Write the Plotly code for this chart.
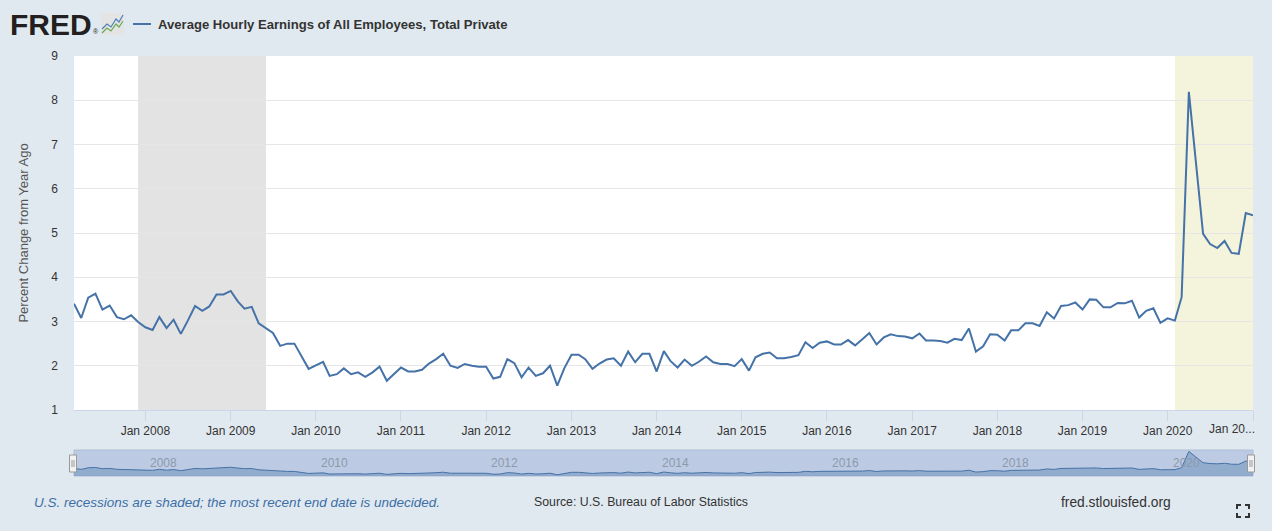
import plotly.graph_objects as go
import pandas as pd

# ---------------- data ----------------
START_MONTH = "2007-03-01"
pct_change = [
    # 2007 Mar-Dec
    3.40, 3.08, 3.54, 3.63, 3.27, 3.36, 3.10, 3.05, 3.14, 2.99,
    # 2008
    2.87, 2.81, 3.10, 2.85, 3.04, 2.72, 3.02, 3.35, 3.24, 3.34, 3.61, 3.61,
    # 2009
    3.69, 3.45, 3.29, 3.33, 2.96, 2.85, 2.74, 2.45, 2.50, 2.50, 2.21, 1.93,
    # 2010
    2.01, 2.09, 1.77, 1.81, 1.94, 1.81, 1.85, 1.75, 1.85, 1.98, 1.66, 1.81,
    # 2011
    1.96, 1.87, 1.87, 1.91, 2.05, 2.15, 2.27, 2.00, 1.95, 2.04, 2.00, 1.98,
    # 2012
    1.98, 1.71, 1.75, 2.15, 2.06, 1.74, 1.96, 1.77, 1.83, 2.00, 1.55, 1.94,
    # 2013
    2.25, 2.25, 2.15, 1.93, 2.05, 2.14, 2.17, 2.00, 2.32, 2.08, 2.27, 2.27,
    # 2014
    1.87, 2.33, 2.11, 1.96, 2.14, 2.00, 2.09, 2.21, 2.08, 2.04, 2.04, 1.99,
    # 2015
    2.15, 1.89, 2.19, 2.27, 2.30, 2.17, 2.17, 2.20, 2.24, 2.53, 2.40, 2.52,
    # 2016
    2.55, 2.48, 2.48, 2.58, 2.46, 2.60, 2.74, 2.48, 2.64, 2.71, 2.67, 2.66,
    # 2017
    2.62, 2.73, 2.57, 2.57, 2.56, 2.52, 2.61, 2.58, 2.84, 2.32, 2.44, 2.71,
    # 2018
    2.70, 2.57, 2.80, 2.80, 2.96, 2.96, 2.90, 3.21, 3.07, 3.35, 3.37, 3.43,
    # 2019
    3.27, 3.50, 3.49, 3.32, 3.32, 3.42, 3.41, 3.47, 3.09, 3.24, 3.30, 2.97,
    # 2020
    3.07, 3.02, 3.55, 8.19, 6.60, 4.98, 4.75, 4.66, 4.82, 4.55, 4.53, 5.45,
    # 2021
    5.40,
]
dates = pd.date_range(START_MONTH, periods=len(pct_change), freq="MS")

recession_starts = ["2007-12-01", "2020-02-01"]
recession_ends = ["2009-06-01", "2021-01-01"]
recession_colors = ["#e3e3e3", "#f4f4dc"]

tick_years = list(range(2008, 2022))
tick_labels = [f"Jan {y}" for y in tick_years[:-1]] + [""]
last_tick_label = "Jan 20..."
nav_years = list(range(2008, 2021, 2))

series_name = "Average Hourly Earnings of All Employees, Total Private"
y_title = "Percent Change from Year Ago"

# ---------------- geometry helpers ----------------
W, H = 1272, 531
L, R, T, B = 74, 19, 56, 55
PW, PH = W - L - R, H - T - B


def px(x):
    return (x - L) / PW


def py(y):
    return (H - B - y) / PH


main_dom = [py(410), 1.0]
nav_dom = [py(476), py(450)]

fig = go.Figure()
fig.add_trace(go.Scatter(
    x=dates, y=pct_change, mode="lines", name=series_name,
    line=dict(color="#4572a7", width=2), xaxis="x", yaxis="y",
))
fig.add_trace(go.Scatter(
    x=dates, y=pct_change, mode="lines", name="navigator",
    line=dict(color="#4572a7", width=1), fill="tozeroy",
    fillcolor="rgba(69,114,167,0.35)", xaxis="x2", yaxis="y2",
))

shapes = []
for s, e, c in zip(recession_starts, recession_ends, recession_colors):
    shapes.append(dict(type="rect", xref="x", yref="y domain", x0=s, x1=e,
                       y0=0, y1=1, fillcolor=c, line_width=0, layer="below"))

# navigator band
shapes.append(dict(type="rect", xref="x2 domain", yref="y2 domain", x0=0, x1=1,
                   y0=0, y1=1, fillcolor="#bccbe3", line=dict(color="#aebdd8", width=1),
                   layer="below"))
# navigator handles
for hx in (73, 1251):
    shapes.append(dict(type="rect", xref="paper", yref="paper",
                       x0=px(hx - 3.5), x1=px(hx + 3.5), y0=py(472), y1=py(455),
                       fillcolor="#f2f2f2", line=dict(color="#999999", width=1), layer="above"))
    for gx in (hx - 1, hx + 1):
        shapes.append(dict(type="line", xref="paper", yref="paper",
                           x0=px(gx), x1=px(gx), y0=py(467), y1=py(460),
                           line=dict(color="#999999", width=1), layer="above"))

# legend line in header
shapes.append(dict(type="line", xref="paper", yref="paper", x0=px(133), x1=px(151),
                   y0=py(24), y1=py(24), line=dict(color="#4572a7", width=2)))

# FRED icon
shapes.append(dict(type="rect", xref="paper", yref="paper", x0=px(101), x1=px(124),
                   y0=py(35), y1=py(13), fillcolor="#e4e4e4", line_width=0))
icon_blue = [(102, 29), (107, 24), (111, 27), (116, 19), (119, 22), (123, 15)]
icon_green = [(102, 33), (107, 28), (111, 31), (116, 24), (119, 27), (123, 21)]
for pts, col in ((icon_blue, "#4d7fb8"), (icon_green, "#6aa84f")):
    path = "M " + " L ".join(f"{px(a)},{py(b)}" for a, b in pts)
    shapes.append(dict(type="path", xref="paper", yref="paper", path=path,
                       line=dict(color=col, width=1.2)))

# fullscreen icon
for (x0, y0, dx, dy) in ((1237, 505, 1, 1), (1249, 505, -1, 1), (1237, 517, 1, -1), (1249, 517, -1, -1)):
    path = f"M {px(x0)},{py(y0 + 4 * dy)} L {px(x0)},{py(y0)} L {px(x0 + 4 * dx)},{py(y0)}"
    shapes.append(dict(type="path", xref="paper", yref="paper", path=path,
                       line=dict(color="#333333", width=2)))

annotations = [
    dict(text="<b>FRED</b>", x=px(8), y=py(24), xref="paper", yref="paper",
         xanchor="left", yanchor="middle", showarrow=False,
         font=dict(family="Liberation Sans, Arial", size=30, color="#231f20")),
    dict(text="®", x=px(91), y=py(32), xref="paper", yref="paper",
         xanchor="left", yanchor="middle", showarrow=False,
         font=dict(family="Liberation Sans, Arial", size=7, color="#231f20")),
    dict(text=f"<b>{series_name}</b>", x=px(156), y=py(24), xref="paper", yref="paper",
         xanchor="left", yanchor="middle", showarrow=False,
         font=dict(family="Liberation Sans, Arial", size=13.1, color="#333333")),
    dict(text="<i>U.S. recessions are shaded; the most recent end date is undecided.</i>",
         x=px(32), y=py(502), xref="paper", yref="paper", xanchor="left", yanchor="middle",
         showarrow=False, font=dict(family="Liberation Sans, Arial", size=13.5, color="#3d6fa6")),
    dict(text="Source: U.S. Bureau of Labor Statistics",
         x=px(532), y=py(502), xref="paper", yref="paper", xanchor="left", yanchor="middle",
         showarrow=False, font=dict(family="Liberation Sans, Arial", size=12.3, color="#333333")),
    dict(text="fred.stlouisfed.org",
         x=px(1059), y=py(502), xref="paper", yref="paper", xanchor="left", yanchor="middle",
         showarrow=False, font=dict(family="Liberation Sans, Arial", size=13.8, color="#333333")),
    dict(text=last_tick_label, x=pd.Timestamp(f"{tick_years[-1]}-01-01"), y=py(429),
         xref="x", yref="paper", xanchor="right", yanchor="middle", xshift=4,
         showarrow=False, font=dict(family="Liberation Sans, Arial", size=12, color="#333333")),
]
for yr in nav_years:
    annotations.append(dict(text=str(yr), x=pd.Timestamp(f"{yr}-01-01"), y=0.5,
                            xref="x2", yref="y2 domain", xanchor="left", yanchor="middle",
                            xshift=3, showarrow=False,
                            font=dict(family="Liberation Sans, Arial", size=12, color="#8e99ab")))

x_range = [dates[0], dates[-1]]
fig.update_layout(
    width=W, height=H,
    margin=dict(l=L, r=R, t=T, b=B, pad=0),
    paper_bgcolor="#e1e9f0", plot_bgcolor="#ffffff",
    showlegend=False,
    font=dict(family="Liberation Sans, Arial", size=12, color="#333333"),
    xaxis=dict(domain=[0, 1], anchor="y", type="date", range=x_range,
               tickvals=[pd.Timestamp(f"{y}-01-01") for y in tick_years],
               ticktext=tick_labels, ticks="outside", ticklen=10, tickcolor="#ccd6eb",
               showline=True, linecolor="#ccd6eb", linewidth=1, showgrid=False,
               zeroline=False, tickfont=dict(size=12, color="#333333")),
    yaxis=dict(domain=main_dom, anchor="x", range=[1, 9], dtick=1,
               gridcolor="#e6e6e6", zeroline=False, showline=False, ticks="",
               tickfont=dict(size=12, color="#333333"), ticklabelstandoff=15,
               title=dict(text=y_title, font=dict(size=13, color="#555555"), standoff=19)),
    xaxis2=dict(domain=[0, 1], anchor="y2", type="date", range=x_range,
                showticklabels=False, showgrid=False, zeroline=False, showline=False, ticks=""),
    yaxis2=dict(domain=nav_dom, anchor="x2", range=[1.2, 8.6], visible=False),
    shapes=shapes, annotations=annotations,
)

fig.write_html("out.html", config={"displayModeBar": False},
               post_script="document.body.style.margin='0';document.body.style.overflow='hidden';")
